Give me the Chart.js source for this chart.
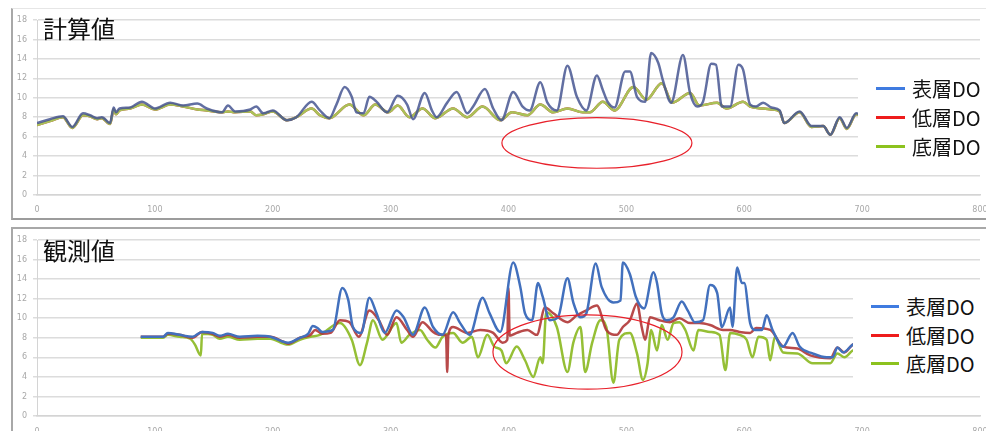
<!DOCTYPE html>
<html lang="ja">
<head>
<meta charset="UTF-8">
<title>DO 計算値・観測値</title>
<style>
  body { margin: 0; background: #fff; width: 986px; height: 431px; overflow: hidden; position: relative;
         font-family: "Noto Sans CJK JP", "Noto Sans", sans-serif; }
  .panel { position: absolute; left: 11px; width: 975px; border-left: 2px solid #a8a8a8; box-sizing: border-box; }
  #panelTop { top: 8px; height: 212px; border-top: 1px solid #e6e6e6; border-bottom: 2px solid #9c9c9c; }
  #panelBottom { top: 227px; height: 204px; border-top: 2px solid #a8a8a8; }
  canvas { position: absolute; left: 0; }
  #calcChart { top: 0; }
  #obsChart { top: 220px; }
  .title { position: absolute; left: 43px; font-size: 24px; line-height: 1; color: #111; }
  .legend { position: absolute; background: #fff; font-size: 20px; color: #111; }
  .legend .rows { position: absolute; left: 18px; }
  .legend .row { display: flex; align-items: center; white-space: nowrap; }
  .legend .swatch { height: 3px; margin-right: 7px; }
</style>
</head>
<body>
  <div class="panel" id="panelTop"></div>
  <div class="panel" id="panelBottom"></div>

  <canvas id="calcChart" width="986" height="220"></canvas>
  <canvas id="obsChart" width="986" height="211"></canvas>

  <div class="title" style="top:16px">計算値</div>
  <div class="title" style="top:238px">観測値</div>

  <div class="legend" id="legendTop" style="left:858px; top:78px; width:128px; height:81px"></div>
  <div class="legend" id="legendBottom" style="left:853px; top:287px; width:133px; height:91px"></div>

  <script src="https://cdn.jsdelivr.net/npm/chart.js"></script>
  <script>
    // ---- 計算値 (model) ----
    const calcSurfaceX = [0, 11, 22, 30, 39, 45, 51, 55, 62, 65, 67, 70, 79, 89, 100, 113, 124, 136, 144, 157,
      162, 168, 181, 186, 192, 200, 212, 220, 233, 240, 248, 254, 261, 267, 271, 277, 282, 288, 297, 306,
      314, 319, 329, 335, 339, 348, 356, 365, 370, 380, 387, 394, 404, 412, 418, 427, 433, 441, 450, 458,
      466, 475, 480, 484, 490, 499, 503, 509, 516, 521, 527, 531, 538, 548, 554, 560, 565, 572, 576, 581,
      588, 595, 599, 605, 610, 616, 623, 630, 634, 647, 657, 667, 673, 681, 687, 695, 698];
    const calcSurface = [7.4, 7.8, 8.1, 7.0, 8.4, 8.2, 7.9, 8.0, 7.4, 9.0, 8.5, 8.9, 9.0, 9.6, 8.9, 9.5, 9.2, 9.4, 8.9, 8.5,
      9.2, 8.6, 8.8, 9.1, 8.4, 8.7, 7.7, 8.0, 9.6, 8.7, 7.9, 9.3, 11.1, 10.1, 8.5, 8.4, 10.1, 9.6, 8.5, 10.2,
      9.3, 7.8, 10.5, 8.7, 8.0, 9.5, 10.6, 8.4, 9.1, 10.9, 8.9, 7.7, 10.6, 9.1, 8.7, 11.6, 9.5, 8.7, 13.3, 10.1,
      8.7, 12.3, 10.8, 9.6, 9.0, 12.7, 12.7, 10.1, 9.6, 14.6, 13.6, 11.8, 9.5, 14.4, 10.5, 9.1, 9.6, 13.5, 13.4, 9.1,
      9.1, 13.4, 12.9, 9.3, 9.1, 9.5, 9.0, 8.7, 7.4, 8.6, 7.1, 7.1, 6.2, 8.0, 6.9, 8.4, 8.3];

    const calcBottomX = [0, 11, 22, 30, 39, 45, 51, 55, 62, 65, 67, 70, 79, 89, 100, 113, 124, 136, 144, 157,
      162, 168, 181, 186, 192, 200, 212, 220, 233, 240, 248, 265, 277, 287, 298, 306, 316, 327, 338, 353,
      365, 378, 393, 403, 416, 427, 438, 450, 463, 469, 480, 490, 506, 517, 530, 539, 554, 562, 577, 585,
      599, 605, 616, 623, 630, 634, 647, 657, 667, 673, 681, 687, 695, 698];
    const calcBottom = [7.2, 7.6, 8.0, 6.9, 8.2, 8.1, 7.8, 7.9, 7.3, 8.8, 8.3, 8.7, 8.9, 9.3, 8.8, 9.3, 9.1, 8.8, 8.7, 8.5,
      8.6, 8.5, 8.6, 8.2, 8.3, 8.6, 7.7, 8.0, 8.9, 8.2, 7.9, 9.3, 8.2, 9.3, 8.5, 9.2, 8.0, 8.9, 7.9, 8.9,
      8.0, 9.1, 7.7, 8.5, 8.2, 9.3, 8.5, 8.9, 8.5, 8.5, 9.6, 8.7, 11.1, 9.8, 11.5, 9.5, 10.5, 9.2, 9.5, 8.9,
      9.6, 9.1, 8.9, 8.8, 8.6, 7.4, 8.5, 7.0, 7.1, 6.2, 7.9, 6.8, 8.3, 8.2];

    // the model's lower layer runs on the bottom layer, so it sits hidden underneath
    const calcLowX = calcBottomX;
    const calcLow = calcBottom;

    // ---- 観測値 (observed) ----
    const obsSurfaceX = [88, 95, 107, 111, 121, 132, 140, 149, 155, 162, 172, 187, 198, 209, 213, 223, 230, 234, 238, 242,
      251, 259, 264, 268, 275, 282, 288, 295, 305, 311, 319, 329, 336, 344, 353, 359, 367, 378, 384, 393,
      404, 410, 414, 420, 425, 429, 435, 442, 450, 455, 461, 466, 474, 479, 489, 495, 497, 503, 508, 515,
      523, 526, 530, 534, 540, 547, 552, 558, 565, 571, 577, 581, 588, 590, 594, 598, 600, 605, 609, 615,
      619, 624, 633, 641, 647, 658, 670, 675, 679, 684, 692, 700];
    const obsSurface = [8.1, 8.1, 8.1, 8.5, 8.3, 8.1, 8.6, 8.5, 8.2, 8.4, 8.1, 8.2, 8.1, 7.6, 7.5, 8.0, 8.4, 9.2, 9.0, 8.6,
      8.8, 13.1, 11.9, 9.1, 8.5, 12.1, 10.5, 8.5, 10.8, 10.1, 8.3, 11.1, 9.1, 8.3, 10.6, 9.5, 8.3, 12.1, 10.5, 8.6,
      15.7, 13.2, 10.5, 9.8, 13.6, 12.2, 9.8, 10.1, 14.1, 11.6, 10.1, 10.5, 15.6, 13.2, 11.6, 11.8, 15.7, 14.5, 12.2, 11.0,
      14.7, 13.6, 10.5, 9.8, 10.1, 11.7, 10.8, 9.6, 9.8, 13.4, 12.6, 9.1, 11.1, 9.1, 15.2, 13.6, 13.6, 9.5, 8.8, 8.8,
      10.3, 8.8, 7.1, 8.5, 7.1, 6.4, 6.0, 6.0, 7.0, 6.5, 7.3, 7.6];

    const obsLowX = [88, 107, 111, 121, 132, 140, 149, 155, 162, 172, 187, 198, 209, 213, 223, 232, 236, 242, 249, 257,
      265, 273, 282, 290, 297, 305, 314, 319, 327, 336, 342, 347, 348, 349, 353, 365, 376, 387, 395, 399,
      400, 401, 407, 416, 424, 431, 438, 450, 458, 466, 475, 483, 492, 497, 503, 509, 513, 516, 520, 528,
      537, 545, 554, 562, 571, 582, 588, 596, 605, 610, 622, 633, 645, 656, 673, 679, 685, 692, 700];
    const obsLow = [8.1, 8.1, 8.4, 8.3, 8.0, 8.6, 8.4, 8.1, 8.3, 8.0, 8.1, 8.1, 7.6, 7.4, 8.0, 8.3, 8.8, 8.4, 8.5, 9.8,
      9.6, 8.1, 10.8, 9.8, 8.3, 10.1, 8.8, 8.1, 9.6, 8.6, 8.3, 8.3, 4.5, 8.3, 9.1, 8.5, 8.8, 8.5, 7.5, 7.8,
      13.1, 8.2, 8.5, 8.8, 8.3, 11.1, 10.5, 9.6, 10.3, 10.8, 11.3, 8.8, 8.3, 9.1, 9.8, 11.5, 9.1, 7.8, 10.1, 9.8,
      9.6, 10.0, 9.5, 9.5, 9.3, 8.8, 8.8, 8.6, 8.5, 9.0, 8.8, 7.1, 6.9, 6.2, 5.9, 7.0, 6.5, 7.3, 7.5];

    const obsBottomX = [88, 107, 111, 121, 130, 134, 139, 140, 149, 155, 162, 172, 187, 198, 209, 213, 223, 232, 240, 257,
      267, 274, 280, 285, 293, 305, 309, 316, 325, 331, 338, 344, 353, 361, 369, 374, 382, 388, 394, 398,
      407, 414, 421, 427, 429, 432, 441, 450, 455, 461, 465, 471, 478, 483, 489, 494, 503, 509, 514, 518,
      521, 526, 530, 535, 540, 545, 550, 557, 561, 571, 579, 584, 588, 596, 602, 607, 612, 619, 622, 626,
      633, 645, 658, 673, 679, 685, 692, 700];
    const obsBottom = [8.0, 8.0, 8.3, 8.1, 7.9, 7.3, 6.2, 8.4, 8.3, 7.9, 8.1, 7.8, 7.9, 7.9, 7.4, 7.3, 7.8, 8.1, 8.3, 9.5,
      7.8, 5.2, 7.5, 9.8, 7.8, 9.5, 7.5, 8.3, 8.8, 7.8, 7.0, 8.1, 8.5, 7.5, 8.1, 6.0, 8.3, 7.1, 6.7, 5.4,
      7.1, 5.7, 4.0, 6.0, 5.4, 10.6, 9.1, 4.5, 7.5, 9.1, 4.5, 7.5, 9.8, 9.1, 3.4, 7.8, 8.5, 6.4, 3.7, 5.4,
      8.8, 6.7, 9.3, 7.8, 9.5, 9.6, 8.8, 6.7, 8.8, 8.6, 8.3, 4.7, 8.5, 8.3, 7.8, 6.0, 8.1, 7.8, 5.7, 8.1,
      6.5, 6.4, 5.4, 5.4, 6.4, 6.0, 6.7, 7.0];

    const seriesNames = ['表層DO', '低層DO', '底層DO'];
    const legendColors = ['#3f7be0', '#ee1c1c', '#8cc21e'];

    // circled areas: centre and radii in axis units
    const calcCircle = { cx: 475, cy: 5.35, rx: 80.6, ry: 2.6 };
    const obsCircle = { cx: 467, cy: 6.55, rx: 80.2, ry: 3.8 };

    const pts = (xs, ys) => xs.map((x, i) => ({ x: x, y: ys[i] }));

    const ellipsePlugin = {
      id: 'ellipse',
      afterDatasetsDraw(chart, args, opts) {
        const { ctx, scales: { x, y } } = chart;
        const cx = x.getPixelForValue(opts.cx), cy = y.getPixelForValue(opts.cy);
        const rx = x.getPixelForValue(opts.cx + opts.rx) - cx;
        const ry = cy - y.getPixelForValue(opts.cy + opts.ry);
        ctx.save();
        ctx.beginPath();
        ctx.ellipse(cx, cy, rx, ry, 0, 0, Math.PI * 2);
        ctx.strokeStyle = '#e8202a';
        ctx.lineWidth = 1.2;
        ctx.stroke();
        ctx.restore();
      }
    };

    function makeChart(id, datasets, circle, xAxisHeight, xLabelPad) {
      return new Chart(document.getElementById(id), {
        type: 'line',
        data: { datasets: datasets },
        plugins: [ellipsePlugin],
        options: {
          responsive: false,
          animation: false,
          parsing: false,
          layout: { padding: { left: 0, right: 6, top: 20, bottom: 0 } },
          elements: {
            point: { radius: 0 },
            line: { borderWidth: 2.5, cubicInterpolationMode: 'monotone', borderJoinStyle: 'round' }
          },
          plugins: {
            legend: { display: false },
            tooltip: { enabled: false },
            ellipse: circle
          },
          scales: {
            x: {
              type: 'linear', min: 0, max: 800,
              ticks: { stepSize: 100, padding: xLabelPad, color: '#a8a8a8', font: { size: 8, family: 'DejaVu Sans' }, maxRotation: 0 },
              grid: { display: false },
              border: { color: '#d4d4d4', width: 1.5 },
              afterFit(s) { s.height = xAxisHeight; s.paddingLeft = 0; s.paddingRight = 0; }
            },
            y: {
              min: 0, max: 18,
              ticks: { stepSize: 2, padding: 6, color: '#a8a8a8', font: { size: 8, family: 'DejaVu Sans' } },
              grid: { color: '#dcdcdc', lineWidth: 1.5, tickLength: 4 },
              border: { color: '#d4d4d4', width: 1 },
              afterFit(s) { s.width = 37; s.paddingTop = 0; s.paddingBottom = 0; }
            }
          }
        }
      });
    }

    makeChart('calcChart', [
      { label: seriesNames[0], data: pts(calcSurfaceX, calcSurface), borderColor: 'rgba(70,86,146,0.85)', order: 0 },
      { label: seriesNames[1], data: pts(calcLowX, calcLow), borderColor: '#c43a3a', order: 2 },
      { label: seriesNames[2], data: pts(calcBottomX, calcBottom), borderColor: '#aac257', order: 1 }
    ], calcCircle, 25, 2);

    makeChart('obsChart', [
      { label: seriesNames[0], data: pts(obsSurfaceX, obsSurface), borderColor: '#4270bd' },
      { label: seriesNames[1], data: pts(obsLowX, obsLow), borderColor: 'rgba(176,54,54,0.9)' },
      { label: seriesNames[2], data: pts(obsBottomX, obsBottom), borderColor: '#95bf35' }
    ], obsCircle, 15, 3);

    // legend boxes drawn over the right side of each plot
    function buildLegend(id, rowHeight, offsetTop, swatchWidth) {
      const box = document.getElementById(id);
      const rows = document.createElement('div');
      rows.className = 'rows';
      rows.style.top = offsetTop + 'px';
      seriesNames.forEach((name, i) => {
        const row = document.createElement('div');
        row.className = 'row';
        row.style.height = rowHeight + 'px';
        const sw = document.createElement('span');
        sw.className = 'swatch';
        sw.style.width = swatchWidth + 'px';
        sw.style.background = legendColors[i];
        const txt = document.createElement('span');
        txt.textContent = name;
        row.appendChild(sw);
        row.appendChild(txt);
        rows.appendChild(row);
      });
      box.appendChild(rows);
    }
    buildLegend('legendTop', 29, -4.5, 29);
    buildLegend('legendBottom', 28.5, 5.7, 28);
  </script>
</body>
</html>
